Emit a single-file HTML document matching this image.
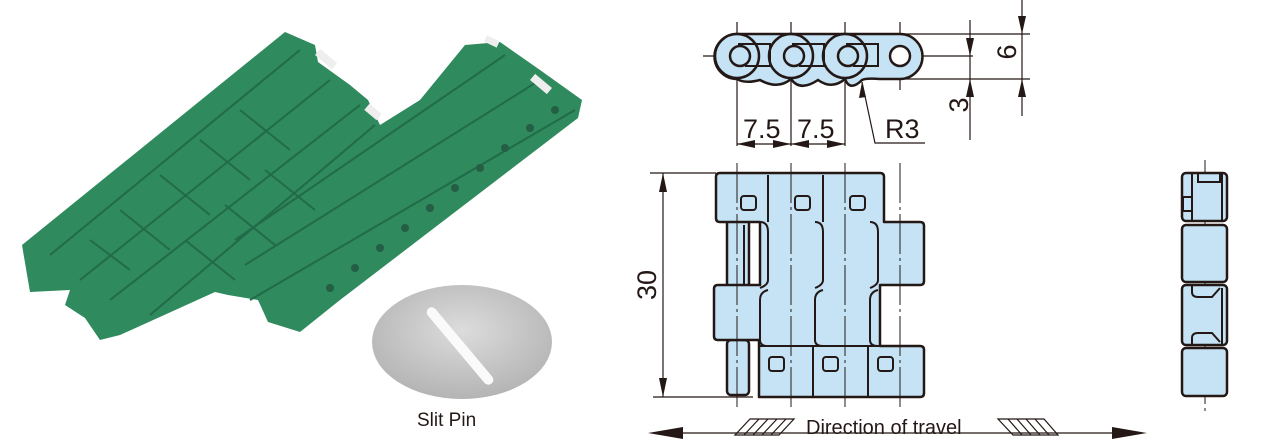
<!DOCTYPE html>
<html><head><meta charset="utf-8"><style>
html,body{margin:0;padding:0;background:#fff;}
svg{display:block}
text{font-family:"Liberation Sans",sans-serif;fill:#231815}
</style></head><body>
<svg width="1279" height="445" viewBox="0 0 1279 445" xmlns="http://www.w3.org/2000/svg">
<defs>
<radialGradient id="g" cx="50%" cy="40%" r="60%"><stop offset="0" stop-color="#dcdcdc"/><stop offset="1" stop-color="#b4b4b4"/></radialGradient>
</defs>
<!-- photo -->
<polygon points="22,245 285,32 315,45 318,62 350,85 368,100 380,125 420,100 465,45 500,42 540,70 582,100 578,118 340,300 300,332 268,322 258,300 228,295 215,292 120,335 100,340 85,318 65,305 70,290 30,292" fill="#2f8a5e"/>
<g stroke="#226b48" stroke-width="2" fill="none">
<path d="M50,255 L300,50"/><path d="M80,280 L330,80"/><path d="M110,300 L360,105"/><path d="M150,315 L375,125"/>
<path d="M250,300 L575,110"/><path d="M245,265 L540,80"/><path d="M235,240 L505,55"/>
<path d="M120,210 L170,250 M160,175 L210,215 M200,140 L250,180 M240,110 L290,150 M90,240 L130,270 M185,240 L235,280 M225,205 L275,245 M265,170 L315,210"/>
</g>
<g fill="#245e44">
<circle cx="330" cy="288" r="4"/><circle cx="355" cy="268" r="4"/><circle cx="380" cy="248" r="4"/><circle cx="405" cy="228" r="4"/><circle cx="430" cy="208" r="4"/><circle cx="455" cy="188" r="4"/><circle cx="480" cy="168" r="4"/><circle cx="505" cy="148" r="4"/><circle cx="530" cy="128" r="4"/><circle cx="555" cy="110" r="4"/>
</g>
<rect x="315" y="55" width="22" height="8" fill="#eee" transform="rotate(40 326 59)"/>
<rect x="365" y="108" width="16" height="8" fill="#eee" transform="rotate(40 373 112)"/>
<rect x="485" y="38" width="14" height="7" fill="#eee" transform="rotate(25 492 41)"/>
<rect x="530" y="80" width="22" height="8" fill="#eee" transform="rotate(40 541 84)"/>
<ellipse cx="462" cy="342" rx="90" ry="57" fill="url(#g)"/>
<rect x="455" y="297" width="10" height="98" rx="5" fill="#fafafa" transform="rotate(-40 460 346)"/>
<text x="417" y="426" font-size="19">Slit Pin</text>

<!-- top view -->
<g stroke="#231815" fill="none" stroke-width="1.2">
<line x1="703" y1="56" x2="973" y2="56"/>
<line x1="737" y1="22" x2="737" y2="146"/><line x1="791" y1="22" x2="791" y2="146"/><line x1="845" y1="22" x2="845" y2="146"/><line x1="900" y1="22" x2="900" y2="90"/>
<line x1="900" y1="34" x2="1030" y2="34"/><line x1="900" y1="79" x2="1030" y2="79"/>
<line x1="970" y1="20" x2="970" y2="140"/><line x1="1022" y1="0" x2="1022" y2="116"/>
<line x1="737" y1="144" x2="845" y2="144"/>
<polyline points="862,82 875,143 925,143"/>
</g>
<g fill="#231815">
<polygon points="970,56 966,38 974,38"/><polygon points="970,79 966,97 974,97"/>
<polygon points="1022,34 1018,16 1026,16"/><polygon points="1022,79 1018,97 1026,97"/>
<polygon points="737,144 755,140 755,148"/><polygon points="791,144 773,140 773,148"/><polygon points="791,144 809,140 809,148"/><polygon points="845,144 827,140 827,148"/>
<polygon points="862,82 859,98 866,97"/>
</g>
<g stroke="#231815" stroke-width="2.5" fill="#c5e3f5">
<path d="M737,34 L900,34 A22,22 0 0 1 900,79 L880,79 Q866,78 862,80 Q850,92 845,79 Q832,90 818,80 Q800,92 791,79 Q778,90 760,80 Q745,84 737,79 A22,22 0 0 1 737,34 Z"/>
<circle cx="737" cy="56" r="22"/><circle cx="791" cy="56" r="22"/><circle cx="845" cy="56" r="22"/>
<circle cx="900" cy="56" r="10" fill="#fff"/>
<circle cx="740" cy="56" r="10"/><circle cx="794" cy="56" r="10"/><circle cx="848" cy="56" r="10"/>
</g>
<g stroke="#231815" stroke-width="2" fill="none">
<path d="M738,44 H770 V66 H745"/><path d="M792,44 H824 V66 H799"/><path d="M846,44 H878 V66 H853"/>
</g>
<text x="743" y="138" font-size="27">7.5</text><text x="797" y="138" font-size="27">7.5</text><text x="885" y="138" font-size="27">R3</text>
<text transform="translate(1016,52) rotate(-90)" font-size="27" text-anchor="middle">6</text>
<text transform="translate(968,105) rotate(-90)" font-size="27" text-anchor="middle">3</text>

<!-- front view -->
<g stroke="#231815" stroke-width="1.2" fill="none">
<line x1="650" y1="173" x2="716" y2="173"/><line x1="653" y1="397" x2="753" y2="397"/>
<line x1="663" y1="173" x2="663" y2="397"/>
</g>
<polygon points="663,173 659,192 667,192" fill="#231815"/><polygon points="663,397 659,378 667,378" fill="#231815"/>
<text transform="translate(656,285) rotate(-90)" font-size="27" text-anchor="middle">30</text>
<g stroke="#231815" stroke-width="2.5" fill="#c5e3f5" stroke-linejoin="round">
<rect x="727" y="218" width="22" height="70" rx="3"/>
<rect x="727" y="340" width="22" height="55" rx="4"/>
<path d="M720,173 H880 Q884,173 884,177 V222 H920 Q924,222 924,226 V281 Q924,285 920,285 H880 V346 H920 Q924,346 924,350 V393 Q924,397 920,397 H759 V340 H718 Q714,340 714,336 V289 Q714,285 718,285 H760 V222 H720 Q716,222 716,218 V177 Q716,173 720,173 Z"/>
</g>
<g stroke="#231815" stroke-width="2" fill="none">
<line x1="768" y1="175" x2="768" y2="222"/><line x1="823" y1="175" x2="823" y2="222"/>
<path d="M760,222 Q768,222 768,232 V280 Q768,285 760,288"/><path d="M815,222 Q823,222 823,232 V280 Q823,285 815,288"/><path d="M870,222 Q878,222 878,232 V280 Q878,285 870,288"/>
<path d="M768,290 Q760,292 760,300 V340 Q760,346 768,346"/><path d="M823,290 Q815,292 815,300 V340 Q815,346 823,346"/><path d="M878,290 Q870,292 870,300 V340 Q870,346 878,346"/>
<line x1="813" y1="346" x2="813" y2="397"/><line x1="868" y1="346" x2="868" y2="397"/>
<line x1="759" y1="346" x2="880" y2="346"/>
<line x1="744" y1="225" x2="744" y2="285"/>
<rect x="741" y="196" width="15" height="14" rx="3"/><rect x="795" y="196" width="15" height="14" rx="3"/><rect x="850" y="196" width="15" height="14" rx="3"/>
<rect x="769" y="357" width="15" height="14" rx="3"/><rect x="823" y="357" width="15" height="14" rx="3"/><rect x="878" y="357" width="15" height="14" rx="3"/>
</g>
<g stroke="#231815" stroke-width="1" stroke-dasharray="40,4,3,4">
<line x1="737" y1="163" x2="737" y2="408"/><line x1="791" y1="163" x2="791" y2="408"/><line x1="845" y1="163" x2="845" y2="408"/><line x1="900" y1="163" x2="900" y2="408"/>
<line x1="1205" y1="160" x2="1205" y2="412"/>
</g>

<!-- side view -->
<g stroke="#231815" stroke-width="2.5" fill="#c5e3f5">
<rect x="1182" y="173" width="45" height="48" rx="4"/>
<rect x="1182" y="225" width="45" height="57" rx="4"/>
<rect x="1182" y="285" width="45" height="60" rx="4"/>
<rect x="1182" y="348" width="45" height="48" rx="4"/>
</g>
<g stroke="#231815" stroke-width="2" fill="none">
<rect x="1198" y="173" width="22" height="9"/><line x1="1192" y1="173" x2="1192" y2="221"/><line x1="1222" y1="173" x2="1222" y2="221"/>
<rect x="1183" y="197" width="9" height="14"/>
<path d="M1192,285 V292 Q1192,297 1198,297 H1212 L1220,288"/><path d="M1192,345 V338 Q1192,333 1198,333 H1212 L1220,342"/><line x1="1222" y1="288" x2="1222" y2="345"/>
</g>

<!-- direction -->
<g stroke="#231815" stroke-width="1.2" fill="none">
<line x1="660" y1="433" x2="1135" y2="433"/>
<polygon points="735,435 750,419 794,419 779,435"/>
<path d="M744,435 L759,419 M753,435 L768,419 M762,435 L777,419 M771,435 L786,419"/>
<polygon points="998,419 1044,419 1058,435 1013,435"/>
<path d="M1008,419 L1022,435 M1017,419 L1031,435 M1026,419 L1040,435 M1035,419 L1049,435"/>
</g>
<polygon points="648,433 683,427 683,439" fill="#231815"/><polygon points="1147,433 1112,427 1112,439" fill="#231815"/>
<text x="806" y="434" font-size="20">Direction of travel</text>
</svg>
</body></html>
